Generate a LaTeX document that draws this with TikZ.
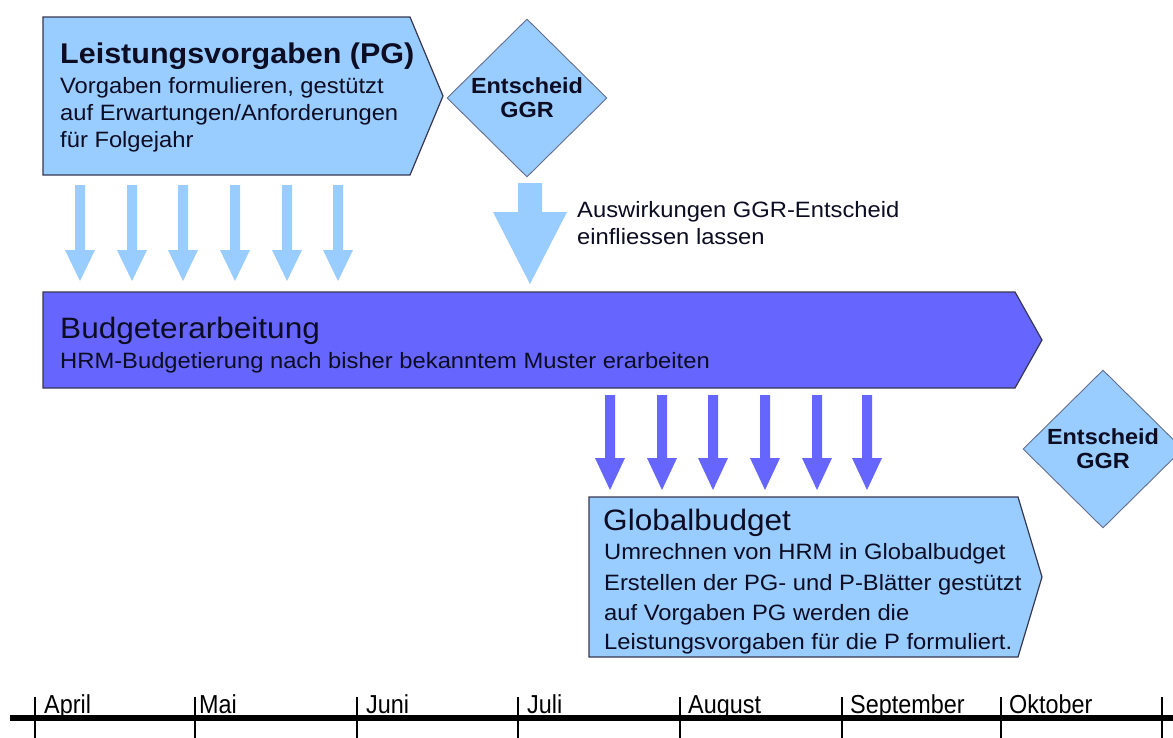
\documentclass[tikz,border=0pt]{standalone}
\usepackage{fontspec}
\setmainfont{Liberation Sans}[FakeStretch=1.07]
\newfontfamily\monthfont{Liberation Sans}[FakeStretch=0.9]
\usetikzlibrary{shapes.geometric}

\definecolor{paleblue}{RGB}{153,204,255}
\definecolor{violetblue}{RGB}{102,102,255}
\definecolor{boxline}{RGB}{55,55,80}
\definecolor{diamondline}{RGB}{100,110,140}
\definecolor{inkblue}{RGB}{12,12,35}

% font sizes (1 unit = 1pt)
\newcommand\ttlfont{\fontsize{28.5}{32}\bfseries\selectfont}
\newcommand\hdfont{\fontsize{29.5}{32}\selectfont}
\newcommand\bdfont{\fontsize{22.2}{29}\selectfont}
\newcommand\dmfont{\fontsize{21.9}{24}\bfseries\selectfont}

\begin{document}
\begin{tikzpicture}[x=1pt,y=-1pt,
  panel/.style={draw=boxline, line width=1.2pt, line join=miter},
  decision/.style={diamond, draw=diamondline, line width=0.9pt, fill=paleblue,
                   minimum width=160pt, minimum height=158pt, inner sep=0pt},
  txt/.style={inner sep=0pt, text=inkblue, anchor=base west},
  dtxt/.style={inner sep=0pt, text=inkblue, align=center, font=\dmfont},
  tick/.style={line width=2pt},
  month/.style={inner sep=0pt, anchor=base west, font=\monthfont\fontsize{26}{28}\selectfont}
]
\useasboundingbox[fill=white] (0,0) rectangle (1173,737);
\clip (0,0) rectangle (1173,737);

% ---------- Leistungsvorgaben ----------
\fill[paleblue] (43,17) -- (410,17) -- (443,96) -- (410,175) -- (43,175) -- cycle;
\draw[panel] (43,17) -- (410,17) -- (443,96) -- (410,175) -- (43,175) -- cycle;
\node[txt, font=\ttlfont] (pgtitle) at (60,63) {Leistungsvorgaben (PG)};
\node[txt, font=\bdfont] (pgl1) at (60,93) {Vorgaben formulieren, gestützt};
\node[txt, font=\bdfont] (pgl2) at (60,120) {auf Erwartungen/Anforderungen};
\node[txt, font=\bdfont] (pgl3) at (60,147) {für Folgejahr};

% ---------- first decision ----------
\node[decision] (ggrA) at (527,98) {};
\node[dtxt] (ggrAtext) at (ggrA.center) {Entscheid\\GGR};

% ---------- light arrows into the budget ----------
\foreach \x in {80,132,183,235,287,338}{
  \fill[paleblue] (\x-5,185) -- (\x+5,185) -- (\x+5,250) -- (\x+15,250)
    -- (\x,281) -- (\x-15,250) -- (\x-5,250) -- cycle;
}
% broad arrow below the decision
\fill[paleblue] (518,183) -- (542,183) -- (542,212) -- (567,212)
  -- (530,284) -- (493,212) -- (518,212) -- cycle;
\node[txt, font=\bdfont] (effect1) at (577,217) {Auswirkungen GGR-Entscheid};
\node[txt, font=\bdfont] (effect2) at (577,244) {einfliessen lassen};

% ---------- Budgeterarbeitung ----------
\fill[violetblue] (43,292) -- (1015,292) -- (1042,340) -- (1015,388) -- (43,388) -- cycle;
\draw[panel] (43,292) -- (1015,292) -- (1042,340) -- (1015,388) -- (43,388) -- cycle;
\node[txt, font=\hdfont] (budtitle) at (60,338) {Budgeterarbeitung};
\node[txt, font=\bdfont] (budline) at (60,368) {HRM-Budgetierung nach bisher bekanntem Muster erarbeiten};

% ---------- violet arrows into the global budget ----------
\foreach \x in {610,662,713,765,817,867}{
  \fill[violetblue] (\x-5,395) -- (\x+5,395) -- (\x+5,458) -- (\x+15,458)
    -- (\x,490) -- (\x-15,458) -- (\x-5,458) -- cycle;
}

% ---------- Globalbudget ----------
\fill[paleblue] (589,497) -- (1018,497) -- (1042,577) -- (1018,657) -- (589,657) -- cycle;
\draw[panel] (589,497) -- (1018,497) -- (1042,577) -- (1018,657) -- (589,657) -- cycle;
\node[txt, font=\hdfont] (gbtitle) at (603,530) {Globalbudget};
\node[txt, font=\bdfont] (gbl1) at (604,559) {Umrechnen von HRM in Globalbudget};
\node[txt, font=\bdfont] (gbl2) at (604,590) {Erstellen der PG- und P-Blätter gestützt};
\node[txt, font=\bdfont] (gbl3) at (604,620) {auf Vorgaben PG werden die};
\node[txt, font=\bdfont] (gbl4) at (604,649) {Leistungsvorgaben für die P formuliert.};

% ---------- second decision ----------
\node[decision] (ggrB) at (1103,449) {};
\node[dtxt] (ggrBtext) at (ggrB.center) {Entscheid\\GGR};

% ---------- time axis ----------
\draw[line width=6pt] (10,718) -- (1180,718);
\foreach \x/\m/\d [count=\i] in {35/April/9,195/Mai/4,357/Juni/9,518/Juli/9,
                                  680/August/8,842/September/8,1001/Oktober/8}{
  \draw[tick] (\x,697) -- (\x,740);
  \node[month] (month\i) at (\x+\d,713) {\m};
}
\draw[tick] (1162,697) -- (1162,740);
\end{tikzpicture}
\end{document}
